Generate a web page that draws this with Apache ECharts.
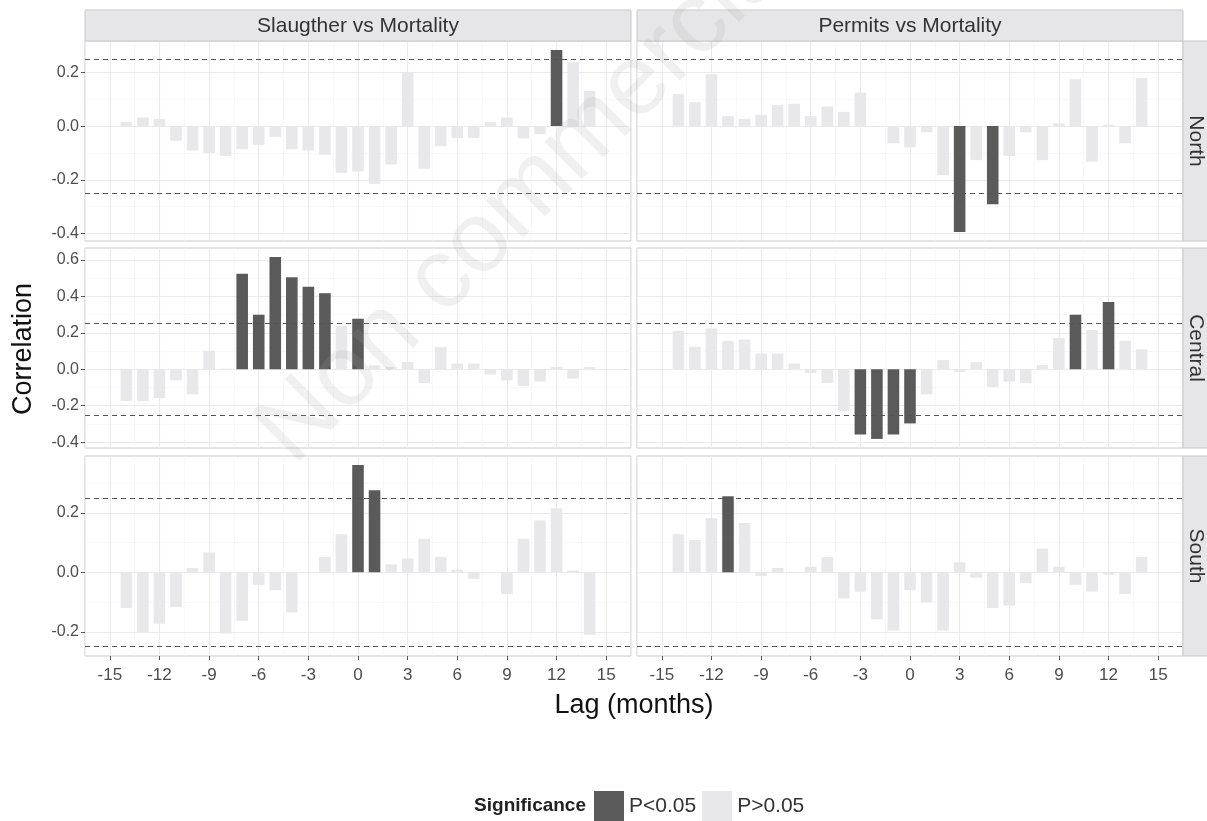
<!DOCTYPE html>
<html><head><meta charset="utf-8">
<script src="https://cdn.jsdelivr.net/npm/echarts@6/dist/echarts.min.js"></script>
<style>html,body{margin:0;padding:0;background:#fff}#c{width:1207px;height:821px}</style>
</head><body><div id="c"></div>
<script>
// ---------- data ----------
const lags = [-14,-13,-12,-11,-10,-9,-8,-7,-6,-5,-4,-3,-2,-1,0,1,2,3,4,5,6,7,8,9,10,11,12,13,14];
const columns = ['Slaugther vs Mortality', 'Permits vs Mortality'];
const rows = ['North', 'Central', 'South'];
const xTicks = [-15,-12,-9,-6,-3,0,3,6,9,12,15];
const yTicksNorth = [-0.4,-0.2,0,0.2];
const yTicksCentral = [-0.4,-0.2,0,0.2,0.4,0.6];
const yTicksSouth = [-0.2,0,0.2];
const sigThreshold = 0.251;
const legendLabels = ['P<0.05', 'P>0.05'];

const northSlaughter = [0.016,0.032,0.026,-0.054,-0.091,-0.100,-0.111,-0.086,-0.070,-0.040,-0.086,-0.091,-0.107,-0.174,-0.169,-0.215,-0.143,0.201,-0.159,-0.075,-0.044,-0.044,0.016,0.032,-0.046,-0.030,0.283,0.238,0.131];
const northPermits = [0.119,0.089,0.193,0.037,0.027,0.042,0.078,0.083,0.037,0.073,0.053,0.125,-0.003,-0.064,-0.079,-0.023,-0.183,-0.394,-0.127,-0.291,-0.111,-0.023,-0.127,0.010,0.175,-0.132,0.005,-0.064,0.180];
const centralSlaughter = [-0.174,-0.174,-0.158,-0.061,-0.138,0.101,0.003,0.523,0.299,0.615,0.505,0.453,0.417,0.237,0.277,0.022,0.013,0.039,-0.075,0.123,0.031,0.031,-0.029,-0.061,-0.092,-0.068,0.013,-0.051,0.013];
const centralPermits = [0.211,0.123,0.224,0.156,0.163,0.086,0.086,0.031,-0.020,-0.075,-0.229,-0.358,-0.382,-0.358,-0.297,-0.138,0.050,-0.015,0.039,-0.097,-0.068,-0.075,0.024,0.171,0.299,0.215,0.369,0.156,0.110];
const southSlaughter = [-0.120,-0.202,-0.173,-0.116,0.015,0.067,-0.206,-0.163,-0.042,-0.060,-0.135,0.000,0.052,0.128,0.361,0.276,0.027,0.047,0.113,0.052,0.009,-0.022,0.000,-0.073,0.113,0.175,0.216,0.006,-0.210];
const southPermits = [0.128,0.109,0.183,0.256,0.166,-0.012,0.015,0.002,0.019,0.052,-0.088,-0.065,-0.158,-0.196,-0.060,-0.101,-0.196,0.034,-0.018,-0.120,-0.112,-0.036,0.080,0.019,-0.042,-0.065,-0.008,-0.073,0.052];

// ---------- layout / style ----------
const panelData = [[northSlaughter, northPermits],[centralSlaughter, centralPermits],[southSlaughter, southPermits]];
const rowTicks = [yTicksNorth, yTicksCentral, yTicksSouth];
const colLeft = [85, 637];
const panelW = 546;
const rowTop = [41, 248, 456];
const panelH = 200;
const xMin = -16.5, xMax = 16.5;
const FONT = '"Liberation Sans", Arial, sans-serif';
const DARK = '#5a5a5b', LIGHT = '#e8e8ea';
const barW = 0.7 * panelW / (xMax - xMin);

// ggplot-like y limits (5% expansion) per row, including the threshold lines
function rowLimits(r) {
  const vals = panelData[r][0].concat(panelData[r][1], [sigThreshold, -sigThreshold]);
  const mn = Math.min(...vals), mx = Math.max(...vals);
  const e = 0.05 * (mx - mn);
  return [mn - e, mx + e];
}

const grids = [], xAxes = [], yAxes = [], series = [], graphics = [];
for (let r = 0; r < 3; r++) {
  const [ymin, ymax] = rowLimits(r);
  const yMajor = [], yMinor = [];
  for (let k = Math.ceil(ymin * 10 - 1e-9); k <= Math.floor(ymax * 10 + 1e-9); k++) {
    (k % 2 === 0 ? yMajor : yMinor).push(k / 10);
  }
  const xMinorLines = [];
  for (let k = 0; k < xTicks.length + 1; k++) xMinorLines.push(xTicks[0] - 1.5 + 3 * k);
  for (let c = 0; c < 2; c++) {
    const i = r * 2 + c;
    grids.push({left: colLeft[c], top: rowTop[r], width: panelW, height: panelH,
      show: true, borderColor: '#c9c9c9', borderWidth: 1, backgroundColor: '#fff'});
    xAxes.push({gridIndex: i, type: 'value', min: xMin, max: xMax, position: 'bottom',
      axisLine: {show: false, onZero: false}, splitLine: {show: false},
      axisTick: {show: r === 2, customValues: xTicks, length: 4, lineStyle: {color: '#555'}},
      axisLabel: {show: r === 2, customValues: xTicks, color: '#4d4d4d', fontSize: 17, fontFamily: FONT, margin: 11}});
    yAxes.push({gridIndex: i, type: 'value', min: ymin, max: ymax, position: 'left',
      axisLine: {show: false, onZero: false}, splitLine: {show: false},
      axisTick: {show: c === 0, customValues: rowTicks[r], length: 4, lineStyle: {color: '#555'}},
      axisLabel: {show: c === 0, customValues: rowTicks[r], color: '#4d4d4d', fontSize: 16, fontFamily: FONT, margin: 6,
        formatter: v => v.toFixed(1)}});
    const gl = [];
    xMinorLines.forEach(v => gl.push({xAxis: v, lineStyle: {color: '#f4f4f4', width: 0.6, type: 'solid'}}));
    yMinor.forEach(v => gl.push({yAxis: v, lineStyle: {color: '#f4f4f4', width: 0.6, type: 'solid'}}));
    xTicks.forEach(v => gl.push({xAxis: v, lineStyle: {color: '#ebebeb', width: 1.1, type: 'solid'}}));
    yMajor.forEach(v => gl.push({yAxis: v, lineStyle: {color: '#ebebeb', width: 1.1, type: 'solid'}}));
    series.push({type: 'line', xAxisIndex: i, yAxisIndex: i, data: [], silent: true, z: 0,
      markLine: {z: 0, symbol: ['none','none'], silent: true, animation: false, label: {show: false}, data: gl}});
    const vals = panelData[r][c];
    const sig = [], non = [];
    lags.forEach((l, j) => { (Math.abs(vals[j]) > sigThreshold ? sig : non).push([l, vals[j]]); });
    series.push({type: 'bar', name: legendLabels[0], xAxisIndex: i, yAxisIndex: i, data: sig,
      barWidth: barW, barGap: '-100%', itemStyle: {color: DARK}, z: 2, animation: false});
    series.push({type: 'bar', name: legendLabels[1], xAxisIndex: i, yAxisIndex: i, data: non,
      barWidth: barW, barGap: '-100%', itemStyle: {color: LIGHT}, z: 2, animation: false});
    series.push({type: 'line', xAxisIndex: i, yAxisIndex: i, data: [], silent: true, z: 3,
      markLine: {symbol: ['none','none'], silent: true, animation: false, label: {show: false},
        lineStyle: {color: '#555', width: 1, type: [5, 4]},
        data: [{yAxis: sigThreshold}, {yAxis: -sigThreshold}]}});
  }
  graphics.push({type: 'rect', shape: {x: 1183, y: rowTop[r], width: 40, height: panelH},
    style: {fill: '#e6e6e8', stroke: '#c9c9c9', lineWidth: 1}, z: 5});
  graphics.push({type: 'text', x: 1196, y: rowTop[r] + panelH / 2, rotation: -Math.PI / 2,
    style: {text: rows[r], fill: '#333', font: '21px ' + FONT, textAlign: 'center', textVerticalAlign: 'middle'}, z: 6});
}
for (let c = 0; c < 2; c++) {
  graphics.push({type: 'rect', shape: {x: colLeft[c], y: 10, width: panelW, height: 31},
    style: {fill: '#e6e6e8', stroke: '#c9c9c9', lineWidth: 1}, z: 5});
  graphics.push({type: 'text', x: colLeft[c] + panelW / 2, y: 26,
    style: {text: columns[c], fill: '#333', font: '21px ' + FONT, textAlign: 'center', textVerticalAlign: 'middle'}, z: 6});
}
graphics.push({type: 'text', x: 24, y: 349, rotation: Math.PI / 2,
  style: {text: 'Correlation', fill: '#111', font: '27px ' + FONT, textAlign: 'center', textVerticalAlign: 'middle'}, z: 6});
graphics.push({type: 'text', x: 634, y: 706,
  style: {text: 'Lag (months)', fill: '#111', font: '27px ' + FONT, textAlign: 'center', textVerticalAlign: 'middle'}, z: 6});
graphics.push({type: 'text', x: 586, y: 806,
  style: {text: 'Significance', fill: '#222', font: 'bold 19px ' + FONT, textAlign: 'right', textVerticalAlign: 'middle'}, z: 6});
graphics.push({type: 'text', x: 530, y: 192, rotation: Math.PI / 4,
  style: {text: 'Non commercial', fill: 'rgba(160,160,160,0.16)', font: '100px ' + FONT, textAlign: 'center', textVerticalAlign: 'middle'}, z: 100, silent: true});

const chart = echarts.init(document.getElementById('c'), null, {renderer: 'canvas'});
chart.setOption({
  animation: false,
  backgroundColor: '#fff',
  grid: grids, xAxis: xAxes, yAxis: yAxes, series: series,
  legend: {data: legendLabels, left: 594, top: 791, padding: 0, itemWidth: 30, itemHeight: 30, itemGap: 6, icon: 'rect',
    selectedMode: false, textStyle: {fontSize: 21, color: '#333', fontFamily: FONT}},
  graphic: graphics
});
</script></body></html>
